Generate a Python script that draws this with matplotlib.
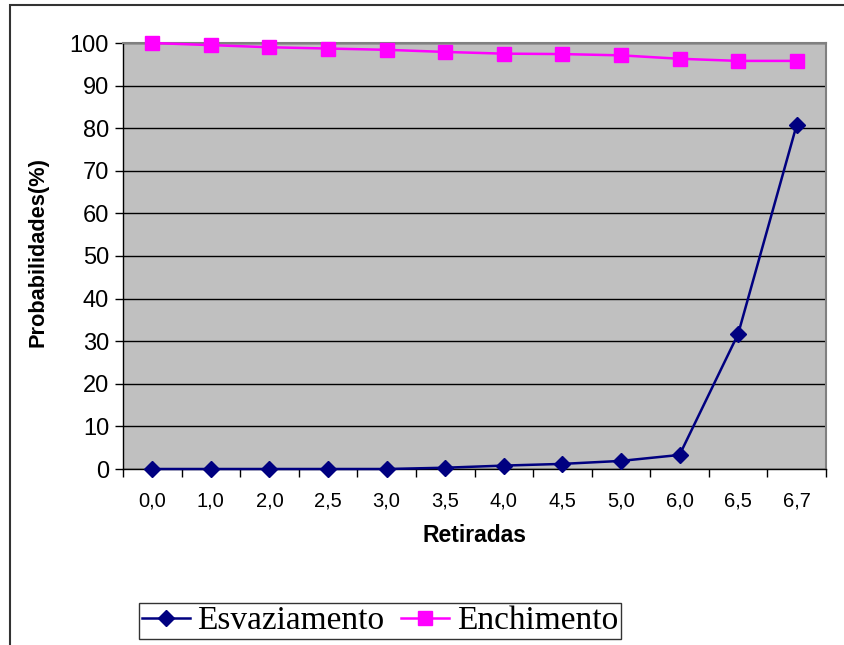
import matplotlib
matplotlib.use('Agg')
import matplotlib.pyplot as plt
from matplotlib.patches import Rectangle

retiradas = ['0,0', '1,0', '2,0', '2,5', '3,0', '3,5', '4,0', '4,5', '5,0', '6,0', '6,5', '6,7']
esvaziamento = [0.0, 0.0, 0.0, 0.0, 0.0, 0.3, 0.8, 1.2, 1.9, 3.3, 31.7, 80.8]
enchimento = [100.0, 99.5, 99.0, 98.7, 98.4, 97.9, 97.5, 97.4, 97.1, 96.3, 95.8, 95.8]

fig = plt.figure(figsize=(8.44, 6.45), dpi=100)
fig.patch.set_facecolor('white')

# outer frame (only left + top fall inside the picture)
fig.patches.append(Rectangle((10 / 844, -0.1), 1.2, 1.1 - 5 / 645,
                             transform=fig.transFigure, fill=False,
                             edgecolor='#333333', linewidth=1.5))

ax = fig.add_axes([123 / 844, 1 - 469 / 645, (826 - 123) / 844, (469 - 43) / 645])
ax.set_facecolor('#C0C0C0')

x = list(range(len(retiradas)))
ax.plot(x, esvaziamento, '-D', color='#000080', markersize=8, linewidth=1.8,
        label='Esvaziamento', clip_on=False, zorder=3)
ax.plot(x, enchimento, '-s', color='#FF00FF', markersize=10, linewidth=1.8,
        label='Enchimento', clip_on=False, zorder=3)

ax.set_xlim(-0.5, len(retiradas) - 0.5)
ax.set_ylim(0, 100)
ax.set_yticks(range(0, 101, 10))
ax.set_yticklabels([str(v) for v in range(0, 101, 10)], fontsize=17,
                   family='Liberation Sans')
ax.yaxis.grid(True, color='black', linewidth=1.0)
ax.set_axisbelow(True)

# category boundaries get the tick marks, labels sit in between
ax.set_xticks([i - 0.5 for i in range(len(retiradas) + 1)])
ax.set_xticklabels([])
ax.set_xticks(x, minor=True)
ax.set_xticklabels(retiradas, minor=True, fontsize=14.5, family='Liberation Sans')
ax.tick_params(axis='x', which='major', length=6, width=1, direction='out')
ax.tick_params(axis='x', which='minor', length=0, pad=16)
ax.tick_params(axis='y', length=6, width=1, direction='out', pad=4)

for side in ['top', 'right']:
    ax.spines[side].set_color('#808080')
    ax.spines[side].set_linewidth(1.5)
for side in ['left', 'bottom']:
    ax.spines[side].set_color('black')
    ax.spines[side].set_linewidth(1.0)

ax.set_xlabel('Retiradas', fontsize=16.5, fontweight='bold', family='Liberation Sans',
              labelpad=10)
ax.set_ylabel('Probabilidades(%)', fontsize=15.7, fontweight='bold',
              family='Liberation Sans')
ax.yaxis.set_label_coords(-74 / 703, 0.51)

leg = fig.legend(loc='lower left', bbox_to_anchor=(139 / 844, 6 / 645), ncol=2,
                 prop={'family': 'Liberation Serif', 'size': 24},
                 frameon=True, fancybox=False, edgecolor='black',
                 handlelength=1.45, handletextpad=0.22, columnspacing=0.5,
                 borderpad=0.08, borderaxespad=0)
leg.get_frame().set_linewidth(1.0)

fig.savefig('out.png', dpi=100, facecolor='white')
